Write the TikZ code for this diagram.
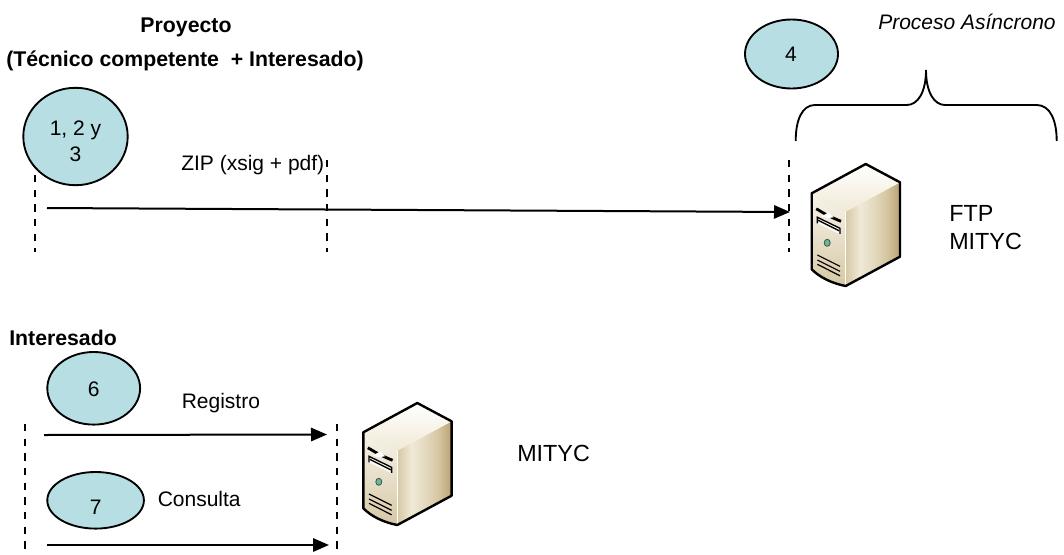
\documentclass[tikz,border=0pt]{standalone}
\usepackage{fontspec}
\setmainfont{Liberation Sans}
\usetikzlibrary{arrows.meta}
\definecolor{bub}{RGB}{183,223,227}
\definecolor{tanA}{RGB}{240,233,214}
\definecolor{tanB}{RGB}{186,162,112}
\definecolor{tanC}{RGB}{214,200,165}
\definecolor{led}{RGB}{95,190,150}
\pgfdeclarehorizontalshading{sideface}{100bp}{color(0bp)=(tanC); color(25bp)=(tanC); color(38bp)=(tanA); color(50bp)=(tanA!55!tanC); color(62bp)=(tanC); color(75bp)=(tanB); color(100bp)=(tanB)}
\tikzset{
  x=0.75pt,y=-0.75pt,
  bubbleface/.style={fill=bub,draw=black,line width=1.4pt},
  lab/.style={inner sep=0pt,font=\fontsize{15.75}{19}\selectfont},
  big/.style={inner sep=0pt,align=left,font=\fontsize{17.5}{21.5}\selectfont},
  head/.style={inner sep=0pt,font=\bfseries\fontsize{15.95}{19}\selectfont},
  guide/.style={dash pattern=on 5.5pt off 5.5pt,line width=1.3pt},
  flow/.style={line width=1.5pt,-{Triangle[length=12pt,width=10pt]}},
  server/.pic={
    \shade[top color=tanA!50!white,bottom color=tanC] (0,0) .. controls (8,10) and (20,15) .. (34,18.4) -- (34,92.7) .. controls (20,90) and (8,84) .. (0,76) -- cycle;
    \shade[shading=sideface] (34,18.4) -- (88.3,-11) -- (88.3,63.4) -- (34,92.7) -- cycle;
    \shade[top color=white,bottom color=tanA] (0,0) -- (54,-29.3) -- (88.3,-11) -- (34,18.4) .. controls (20,15) and (8,10) .. (0,0) -- cycle;
    \draw[white,line width=0.8pt] (34,18.4) -- (34,92.7);
    \draw[line width=1.8pt,line join=round] (0,0) -- (54,-29.3) -- (88.3,-11) -- (88.3,63.4) -- (34,92.7) .. controls (20,90) and (8,84) .. (0,76) -- cycle;
    \draw[line width=2.1pt] (4.5,15.5) .. controls (8,17) and (12,21) .. (29.3,28);
    \fill[white] (10,23) -- (17,19) -- (22,24) -- (15,25) -- cycle;
    \fill[white!90!tanC] (5.7,25) -- (28.3,36) -- (28.3,41) -- (5.7,30) -- cycle;
    \draw[line width=1pt] (5.7,30) -- (5.7,24) -- (28.3,35) -- (28.3,40.5);
    \draw[line width=1pt] (6.5,27) -- (27.5,37.5);
    \fill[led,draw=black!70,line width=0.6pt] (15.5,49.5) circle[x radius=3,y radius=3.5];
    \draw[line width=0.9pt] (5.7,61.7) -- (28.3,73) (5.7,66.7) -- (28.3,78) (5.7,71) -- (28.3,82.5);
  }
}
\begin{document}
\begin{tikzpicture}
\useasboundingbox (0,0) rectangle (1064,554);
% guides
\coordinate (g1a) at (35,175); \coordinate (g1b) at (35,252);
\coordinate (g2a) at (327,160); \coordinate (g2b) at (327,252);
\coordinate (g3a) at (789,160); \coordinate (g3b) at (789,252);
\coordinate (g4a) at (25,424); \coordinate (g4b) at (25,554);
\coordinate (g5a) at (336.7,424); \coordinate (g5b) at (336.7,554);
\draw[guide] (g1a) -- (g1b);
\draw[guide] (g2a) -- (g2b);
\draw[guide] (g3a) -- (g3b);
\draw[guide] (g4a) -- (g4b);
\draw[guide] (g5a) -- (g5b);
% bubbles
\path[bubbleface] (75.5,136.5) ellipse[x radius=52.2,y radius=48.7];
\node[lab,align=center,font=\fontsize{15.75}{19.5}\selectfont] (n123) at (75.5,141) {1, 2 y\\3};
\path[bubbleface] (791.5,54) ellipse[x radius=46.5,y radius=34.5];
\node[lab] (n4) at (791,54) {4};
\path[bubbleface] (93.7,388.3) ellipse[x radius=46.4,y radius=36.3];
\node[lab] (n6) at (93.7,389) {6};
\path[bubbleface] (95.6,500.3) ellipse[x radius=48.3,y radius=28.3];
\node[lab] (n7) at (95.6,507) {7};
% arrows
\coordinate (a1) at (47,208); \coordinate (a2) at (790,212);
\coordinate (b1) at (44,435); \coordinate (b2) at (327,434.5);
\coordinate (c1) at (47,545); \coordinate (c2) at (329,545);
\draw[flow] (a1) -- (a2);
\draw[flow] (b1) -- (b2);
\draw[flow] (c1) -- (c2);
% brace
\coordinate (br1) at (795.7,141); \coordinate (brt) at (926,70); \coordinate (br2) at (1056.7,141);
\draw[line width=1.4pt] (br1) .. controls (795.7,120) and (802,105) .. (815,105) -- (906.7,105)
  .. controls (918,105) and (926,92) .. (brt)
  .. controls (926,92) and (934,105) .. (945,105) -- (1036.7,105)
  .. controls (1050,105) and (1056.7,120) .. (br2);
% servers
\pic at (811.7,193.3) {server};
\pic at (363.3,432.3) {server};
% labels
\node[head] (t1) at (186,27) {Proyecto};
\node[head] (t2) at (185,61) {(Técnico competente\ \ + Interesado)};
\node[head,anchor=west] (t3) at (9,338) {Interesado};
\node[lab,anchor=west] (zip) at (181,165) {ZIP (xsig + pdf)};
\node[lab,anchor=west] (reg) at (181.5,403) {Registro};
\node[lab,anchor=west] (con) at (157.5,499) {Consulta};
\node[lab,anchor=west,font=\itshape\fontsize{15.75}{19}\selectfont] (pa) at (878,22) {Proceso Asíncrono};
\node[big,anchor=north west] (ftp) at (949,205) {FTP\\MITYC};
\node[big,anchor=west] (mit) at (517,453) {MITYC};
\end{tikzpicture}
\end{document}
